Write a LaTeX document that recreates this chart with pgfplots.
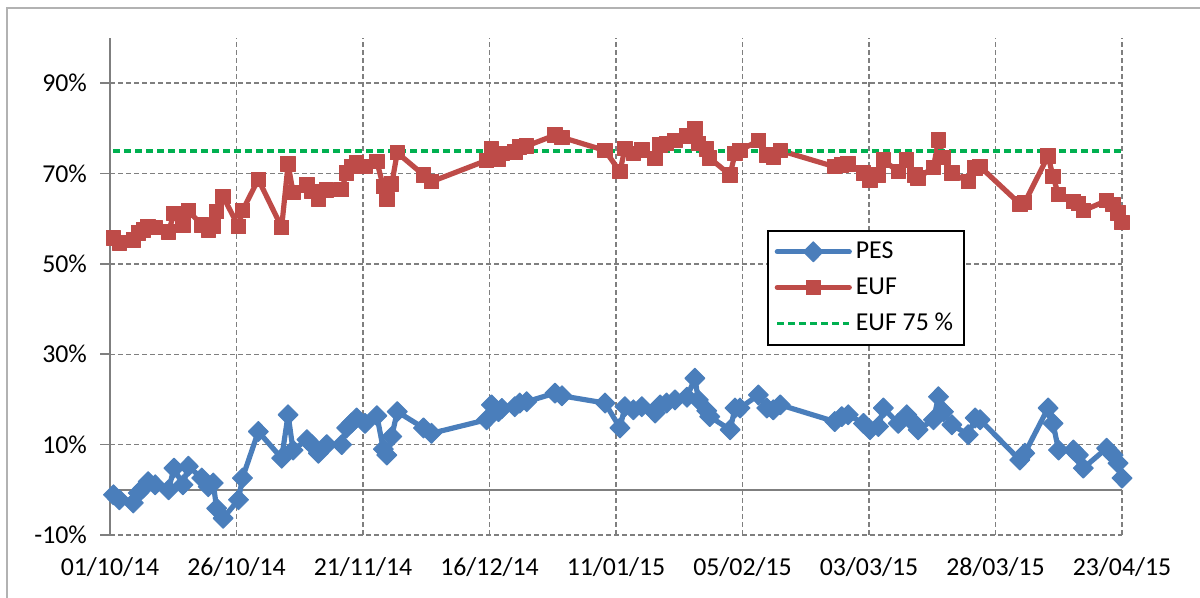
\documentclass[border=0pt]{standalone}
\usepackage{pgfplots}
\pgfplotsset{compat=1.18}
\usepackage{pgfplotstable}
\usepackage{fontspec}
\setmainfont{Carlito}
\definecolor{pesblue}{HTML}{4A7EBB}
\definecolor{eufred}{HTML}{BE4B48}
\definecolor{eufgreen}{HTML}{00B050}
\definecolor{gridgray}{HTML}{7F7F7F}
\pgfplotstableread{
d pes euf
0.7 -1.1 55.7
1.9 -2.2 54.6
4.7 -2.9 55.3
5.7 -0.7 56.8
6.7 0.4 57.5
7.7 1.8 58.3
9.1 1.1 58.1
11.8 0.0 57.1
12.9 4.8 61.2
14.7 1.1 58.6
15.8 5.2 61.8
18.5 2.6 58.6
19.8 0.7 57.5
20.8 1.5 58.4
21.5 -4.1 61.6
22.8 -6.3 64.9
25.9 -2.2 58.3
26.7 2.6 61.8
29.9 12.9 68.7
34.6 7.0 58.1
35.9 16.6 72.1
36.9 8.8 65.8
39.7 11.1 67.5
40.7 10.0 66.0
42.0 8.1 64.3
43.7 10.0 66.4
46.7 10.0 66.5
47.7 13.7 70.1
48.7 14.8 71.5
49.7 15.9 72.4
51.4 14.7 71.5
53.8 16.4 72.6
55.1 9.0 67.1
55.8 7.7 64.3
56.8 11.8 67.7
57.9 17.3 74.6
63.2 13.7 69.7
64.8 12.5 68.2
75.9 15.5 72.9
76.9 18.8 75.4
78.3 17.3 73.2
79.0 18.0 74.5
81.6 18.4 74.8
82.6 19.2 75.9
84.0 19.5 76.1
89.7 21.4 78.5
91.1 20.8 78.0
99.8 19.2 75.1
102.8 13.7 70.4
103.8 18.4 75.6
105.5 17.7 74.5
107.2 18.4 75.2
109.9 17.0 73.3
110.9 18.8 76.3
112.2 19.2 76.7
113.9 19.9 77.3
116.3 20.5 78.3
117.9 24.7 80.0
118.6 19.9 76.7
120.3 17.5 75.4
120.9 16.2 73.4
125.0 13.3 69.7
126.0 18.1 74.5
127.0 18.1 75.1
130.7 21.0 77.3
132.4 18.1 74.1
133.7 17.7 73.7
135.1 18.8 75.1
146.1 15.1 71.5
147.5 16.2 71.9
148.8 16.6 72.1
151.9 14.7 70.1
153.2 13.3 68.6
154.9 14.0 69.7
155.9 18.1 73.0
158.9 14.7 70.4
160.6 16.6 73.0
162.3 14.5 69.7
162.9 13.3 69.0
166.0 15.5 71.4
167.0 20.6 77.4
168.0 17.3 73.6
169.7 14.4 70.1
173.0 12.2 68.2
174.4 15.9 71.2
175.4 15.5 71.5
183.4 6.6 63.3
184.4 8.1 63.6
189.1 18.1 73.9
190.1 14.7 69.3
191.2 8.8 65.3
194.2 8.8 63.8
195.2 7.7 63.4
196.2 4.8 61.8
200.9 9.2 64.0
202.2 7.7 63.1
203.2 5.9 61.3
204.0 2.6 59.1
}\data
\begin{document}
\begin{tikzpicture}
\path[use as bounding box] (0,0) rectangle (600pt,299pt);
\draw[gray!60, line width=0.8pt] (3.5pt,-2pt) -- (3.5pt,295pt) -- (602pt,295pt);
\begin{axis}[
  at={(55pt,31.5pt)}, anchor=south west,
  scale only axis, width=506pt, height=248.5pt,
  xmin=0, xmax=204, ymin=-10, ymax=100,
  clip=false,
  axis y line*=left,
  axis x line*=bottom,
  x axis line style={draw=none},
  y axis line style={draw=gridgray, line width=0.8pt},
  xtick={0,25.5,51,76.5,102,127.5,153,178.5,204},
  xticklabels={01/10/14,26/10/14,21/11/14,16/12/14,11/01/15,05/02/15,03/03/15,28/03/15,23/04/15},
  ytick={-10,10,30,50,70,90},
  yticklabels={-10\%,10\%,30\%,50\%,70\%,90\%},
  xtick style={draw=none},
  ytick style={draw=gridgray, line width=0.8pt},
  tick align=outside,
  major tick length=5pt,
  grid=major,
  major grid style={draw=gridgray, line width=0.75pt, dash pattern=on 2.5pt off 1.5pt},
  tick label style={font=\fontsize{12.9}{15}\selectfont, text=black},
  xticklabel style={yshift=-3pt},
  yticklabel style={xshift=-3pt},
  legend style={at={(0.649,0.6137)}, anchor=north west, draw=black, line width=0.9pt, fill=white,
    font=\fontsize{12.9}{15}\selectfont, row sep=4pt, inner sep=3.5pt,
    cells={anchor=west}},
  legend image code/.code={\draw[mark repeat=2,mark phase=2] plot coordinates {(0pt,0pt)(18pt,0pt)(36pt,0pt)};},
]
\draw[gridgray, line width=0.8pt] (axis cs:0,0) -- (axis cs:204,0);
\addplot[pesblue, line width=2.6pt, line join=round, line cap=round, mark=diamond*, mark size=5pt,
  mark options={xscale=1.33, solid, fill=pesblue, line width=0.5pt}] table[x=d, y=pes] {\data};
\addlegendentry{PES}
\addplot[eufred, line width=2.6pt, line join=round, line cap=round, mark=square*, mark size=3.6pt,
  mark options={solid, fill=eufred, line width=0.5pt}] table[x=d, y=euf] {\data};
\addlegendentry{EUF}
\addplot[eufgreen, line width=1.8pt, dash pattern=on 3.2pt off 2.3pt] coordinates {(0.7,75) (204,75)};
\addlegendentry{EUF 75 \%}
\end{axis}
\end{tikzpicture}
\end{document}
